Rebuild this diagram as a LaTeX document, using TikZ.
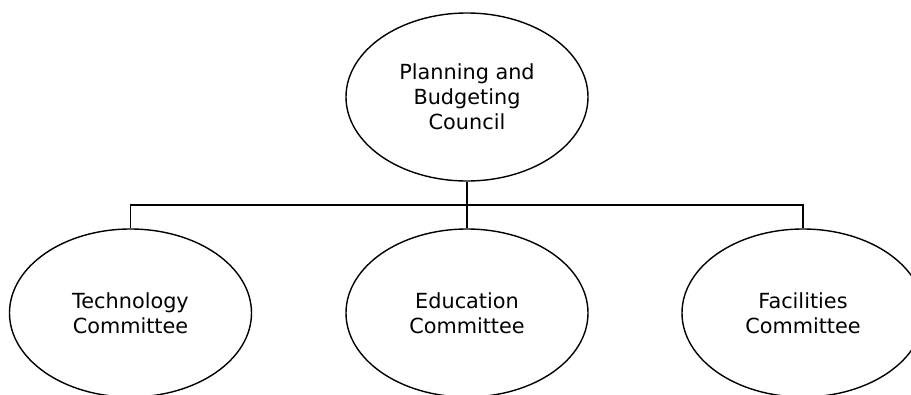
\documentclass[tikz,border=0pt]{standalone}
\usepackage{fontspec}
\setmainfont{DejaVu Sans}
\usetikzlibrary{shapes.geometric}
\begin{document}
\begin{tikzpicture}[x=1pt,y=1pt,
  bubble/.style={draw=black, line width=1.4pt, ellipse, minimum width=242pt, minimum height=168pt, inner sep=0pt, align=center, font=\fontsize{20.8}{25}\selectfont},
  link/.style={draw=black, line width=1.4pt}]
\useasboundingbox (0,0) rectangle (911,-394);
\clip (0,0) rectangle (911,-394);
\fill[white] (0,0) rectangle (911,-394);
\node[bubble] (pbc) at (467,-97) {Planning and\\Budgeting\\Council};
\node[bubble] (tech) at (130.5,-313) {Technology\\Committee};
\node[bubble] (edu) at (467,-313) {Education\\Committee};
\node[bubble] (fac) at (803,-313) {Facilities\\Committee};
\coordinate (bus) at (467,-205);
\draw[link] (pbc.south) -- (bus);
\draw[link] (bus) -- (edu.north);
\draw[link] (tech.north) |- (bus) -| (fac.north);
\end{tikzpicture}
\end{document}
